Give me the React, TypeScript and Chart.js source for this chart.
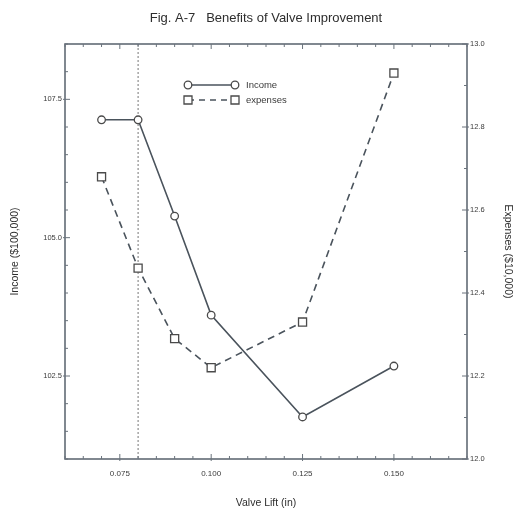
import React, { useEffect, useRef } from "react";
import { Chart, registerables } from "chart.js";

Chart.register(...registerables);

// ---- data ----
const valveLift = [0.07, 0.08, 0.09, 0.1, 0.125, 0.15];
const income = [107.13, 107.13, 105.39, 103.6, 101.76, 102.68];
const expenses = [12.68, 12.46, 12.29, 12.22, 12.33, 12.93];

const xMajorTicks = [0.075, 0.1, 0.125, 0.15];
const incomeMajorTicks = [102.5, 105.0, 107.5];
const expenseMajorTicks = [12.0, 12.2, 12.4, 12.6, 12.8, 13.0];
const markerLift = 0.08;

const titleText = "Fig. A-7   Benefits of Valve Improvement";
const xTitle = "Valve Lift (in)";
const yLeftTitle = "Income ($100,000)";
const yRightTitle = "Expenses ($10,000)";
const seriesNames = ["Income", "expenses"];

const FONT = "'Liberation Sans', Arial, Helvetica, sans-serif";
const INK = "#4a535c";
const TEXT = "#3a3a3a";

function steps(min: number, max: number, step: number, dec: number) {
  const out: number[] = [];
  const n = Math.round((max - min) / step);
  for (let i = 0; i <= n; i++) out.push(+(min + i * step).toFixed(dec));
  return out;
}
const isMajor = (v: number, list: number[]) => list.some((m) => Math.abs(m - v) < 1e-9);

const decorPlugin = {
  id: "decor",
  beforeDatasetsDraw(chart: any) {
    const { ctx, chartArea: a, scales } = chart;
    ctx.save();
    // vertical dotted reference line
    const px = scales.x.getPixelForValue(markerLift);
    ctx.strokeStyle = "#777";
    ctx.lineWidth = 1;
    ctx.setLineDash([2, 2]);
    ctx.beginPath();
    ctx.moveTo(px, a.top);
    ctx.lineTo(px, a.bottom);
    ctx.stroke();
    ctx.setLineDash([]);
    // frame
    ctx.strokeStyle = "#626b75";
    ctx.lineWidth = 1.6;
    ctx.strokeRect(a.left, a.top, a.right - a.left, a.bottom - a.top);
    // inward ticks
    ctx.lineWidth = 1;
    ctx.strokeStyle = "#6a737c";
    const drawTicks = (scale: any, majors: number[], side: string) => {
      scale.ticks.forEach((t: any) => {
        const major = isMajor(t.value, majors);
        const len = major ? 5 : 3;
        const p = scale.getPixelForValue(t.value);
        ctx.beginPath();
        if (side === "bottom") { ctx.moveTo(p, a.bottom + (major ? 2 : 0)); ctx.lineTo(p, a.bottom - len); }
        if (side === "top") { ctx.moveTo(p, a.top); ctx.lineTo(p, a.top + len); }
        if (side === "left") { ctx.moveTo(a.left - (major ? 2 : 0), p); ctx.lineTo(a.left + len, p); }
        if (side === "right") { ctx.moveTo(a.right + (major ? 2 : 0), p); ctx.lineTo(a.right - len, p); }
        ctx.stroke();
      });
    };
    drawTicks(scales.x, xMajorTicks, "bottom");
    drawTicks(scales.x, xMajorTicks, "top");
    drawTicks(scales.y, incomeMajorTicks, "left");
    drawTicks(scales.y1, expenseMajorTicks, "right");
    ctx.restore();
  },
  afterDraw(chart: any) {
    const { ctx } = chart;
    ctx.save();
    const rows = [
      { y: 85, dash: [] as number[], style: "circle", name: seriesNames[0] },
      { y: 100, dash: [6, 5], style: "rect", name: seriesNames[1] },
    ];
    const x0 = 188, x1 = 235;
    rows.forEach((r) => {
      ctx.strokeStyle = INK;
      ctx.lineWidth = 1.5;
      ctx.setLineDash(r.dash);
      ctx.beginPath();
      ctx.moveTo(x0, r.y);
      ctx.lineTo(x1, r.y);
      ctx.stroke();
      ctx.setLineDash([]);
      [x0, x1].forEach((mx) => {
        ctx.fillStyle = "#fff";
        ctx.strokeStyle = "#4a4a4a";
        ctx.lineWidth = 1.3;
        ctx.beginPath();
        if (r.style === "circle") ctx.arc(mx, r.y, 3.8, 0, Math.PI * 2);
        else ctx.rect(mx - 4, r.y - 4, 8, 8);
        ctx.fill();
        ctx.stroke();
      });
      ctx.fillStyle = TEXT;
      ctx.font = `9.5px ${FONT}`;
      ctx.textBaseline = "middle";
      ctx.textAlign = "left";
      ctx.fillText(r.name, 246, r.y);
    });
    ctx.restore();
  },
};

export default function App() {
  const ref = useRef<HTMLCanvasElement | null>(null);
  useEffect(() => {
    if (!ref.current) return;
    const chart = new Chart(ref.current, {
      type: "line",
      data: {
        datasets: [
          {
            label: seriesNames[0],
            data: valveLift.map((x, i) => ({ x, y: income[i] })),
            yAxisID: "y",
            borderColor: INK,
            borderWidth: 1.6,
            pointStyle: "circle",
            pointRadius: 3.8,
            pointBorderWidth: 1.3,
            pointBackgroundColor: "#fff",
            pointBorderColor: "#4a4a4a",
            tension: 0,
          },
          {
            label: seriesNames[1],
            data: valveLift.map((x, i) => ({ x, y: expenses[i] })),
            yAxisID: "y1",
            borderColor: INK,
            borderWidth: 1.6,
            borderDash: [7, 5],
            pointStyle: "rect",
            pointRadius: 5.7,
            pointBorderWidth: 1.3,
            pointBackgroundColor: "#fff",
            pointBorderColor: "#4a4a4a",
            tension: 0,
          },
        ],
      },
      options: {
        animation: false,
        responsive: true,
        maintainAspectRatio: false,
        layout: { padding: 0 },
        plugins: {
          legend: { display: false },
          tooltip: { enabled: false },
          title: {
            display: true,
            text: titleText,
            fullSize: false,
            color: "#2e2e2e",
            font: { family: FONT, size: 13, weight: "normal" },
            padding: { top: 11, bottom: 17.4 },
          },
        },
        scales: {
          x: {
            type: "linear",
            min: 0.06,
            max: 0.17,
            afterBuildTicks: (s: any) => {
              s.ticks = steps(0.06, 0.17, 0.005, 3).map((v) => ({ value: v }));
            },
            afterFit: (s: any) => { s.height = 51; },
            grid: { display: false, drawTicks: false },
            border: { display: false },
            ticks: {
              autoSkip: false,
              maxRotation: 0,
              padding: 10,
              color: TEXT,
              font: { family: FONT, size: 8 },
              callback: (v: any) => (isMajor(Number(v), xMajorTicks) ? Number(v).toFixed(3) : ""),
            },
            title: {
              display: true,
              text: xTitle,
              color: "#2e2e2e",
              font: { family: FONT, size: 10.5 },
              padding: { top: 0, bottom: 1 },
            },
          },
          y: {
            type: "linear",
            position: "left",
            min: 101,
            max: 108.5,
            afterBuildTicks: (s: any) => {
              s.ticks = steps(101, 108.5, 0.5, 1).map((v) => ({ value: v }));
            },
            afterFit: (s: any) => { s.width = 65; },
            grid: { display: false, drawTicks: false },
            border: { display: false },
            ticks: {
              autoSkip: false,
              padding: 3,
              color: TEXT,
              font: { family: FONT, size: 7.5 },
              callback: (v: any) => (isMajor(Number(v), incomeMajorTicks) ? Number(v).toFixed(1) : ""),
            },
            title: {
              display: true,
              text: yLeftTitle,
              color: "#2e2e2e",
              font: { family: FONT, size: 10.5 },
              padding: { top: 9, bottom: 0 },
            },
          },
          y1: {
            type: "linear",
            position: "right",
            min: 12.0,
            max: 13.0,
            afterBuildTicks: (s: any) => {
              s.ticks = steps(12.0, 13.0, 0.1, 1).map((v) => ({ value: v }));
            },
            afterFit: (s: any) => { s.width = 51; },
            grid: { display: false, drawTicks: false },
            border: { display: false },
            ticks: {
              autoSkip: false,
              padding: 3,
              color: TEXT,
              font: { family: FONT, size: 7.5 },
              callback: (v: any) => (isMajor(Number(v), expenseMajorTicks) ? Number(v).toFixed(1) : ""),
            },
            title: {
              display: true,
              text: yRightTitle,
              color: "#2e2e2e",
              font: { family: FONT, size: 10.5 },
              padding: { top: 4, bottom: 0 },
            },
          },
        },
      },
      plugins: [decorPlugin],
    } as any);
    return () => chart.destroy();
  }, []);

  return (
    <div style={{ position: "fixed", left: 0, top: 0, width: 518, height: 510, background: "#fff" }}>
      <canvas ref={ref} />
    </div>
  );
}
